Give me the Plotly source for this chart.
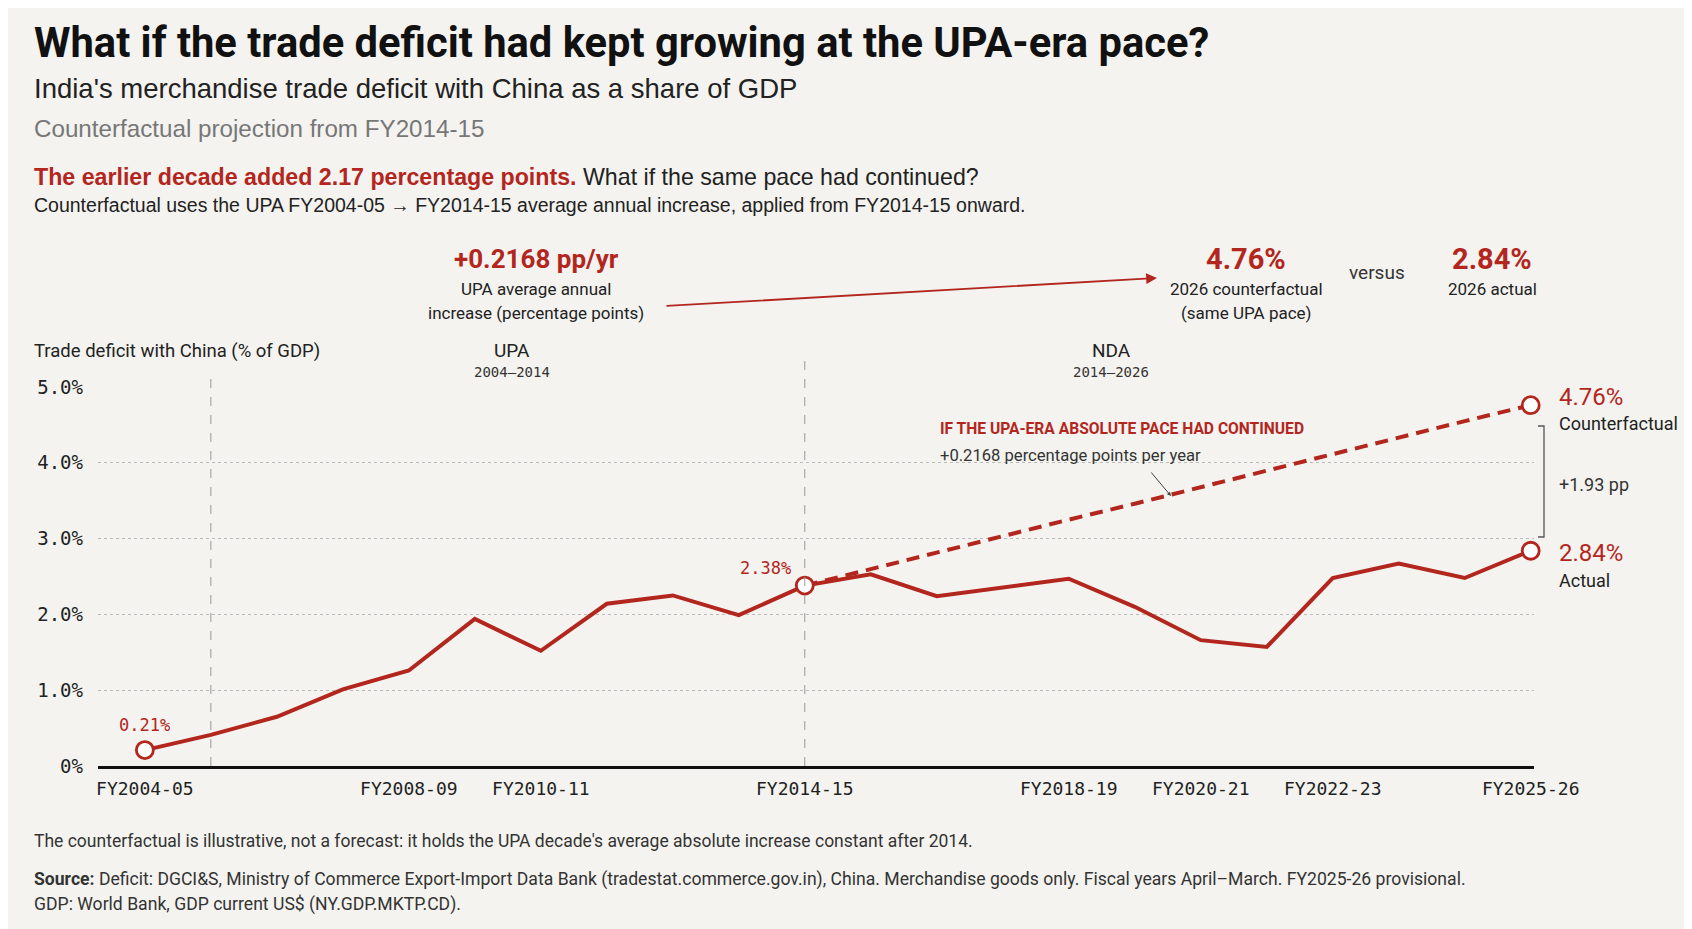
import plotly.graph_objects as go

# Fiscal years on the x axis
years = [
    "FY2004-05", "FY2005-06", "FY2006-07", "FY2007-08", "FY2008-09", "FY2009-10",
    "FY2010-11", "FY2011-12", "FY2012-13", "FY2013-14", "FY2014-15", "FY2015-16",
    "FY2016-17", "FY2017-18", "FY2018-19", "FY2019-20", "FY2020-21", "FY2021-22",
    "FY2022-23", "FY2023-24", "FY2024-25", "FY2025-26",
]

# Actual trade deficit with China (% of GDP)
actual = [
    0.21, 0.41, 0.65, 1.01, 1.26, 1.94, 1.52, 2.14, 2.25, 1.99, 2.38,
    2.53, 2.24, 2.36, 2.47, 2.10, 1.66, 1.57, 2.48, 2.67, 2.48, 2.84,
]

# Counterfactual path from FY2014-15 (UPA pace +0.2168 pp/yr)
cf_years = years[10:]
counterfactual = [2.38, 2.60, 2.81, 3.03, 3.25, 3.46, 3.68, 3.90, 4.11, 4.33, 4.55, 4.76]

tick_years = ["FY2004-05", "FY2008-09", "FY2010-11", "FY2014-15",
              "FY2018-19", "FY2020-21", "FY2022-23", "FY2025-26"]
y_ticks = [0, 1, 2, 3, 4, 5]
y_tick_text = ["0%", "1.0%", "2.0%", "3.0%", "4.0%", "5.0%"]

RED = "#b3261e"
BG = "#f4f3ef"
SANS = "Roboto, 'Liberation Sans', sans-serif"
BODY = "'Liberation Sans', Arial, sans-serif"
MONO = "'DejaVu Sans Mono', 'Liberation Mono', monospace"

W, H = 1692, 929
OFF = 8  # page margin of the html body
L, R, T, B = 98 - OFF, 1534 - OFF, 387 - OFF, 766 - OFF


def px(x):
    return (x - OFF - L) / (R - L)


def py(y):
    return (B - (y - OFF)) / (B - T)


fig = go.Figure()

# Counterfactual (dashed)
fig.add_trace(go.Scatter(
    x=cf_years, y=counterfactual, mode="lines",
    line=dict(color=RED, width=4, dash="13px,8px"), hoverinfo="skip",
))

# Actual line
fig.add_trace(go.Scatter(
    x=years, y=actual, mode="lines",
    line=dict(color=RED, width=4), hoverinfo="skip",
))

# Highlighted points
hl_x = [years[0], years[10], years[-1], cf_years[-1]]
hl_y = [actual[0], actual[10], actual[-1], counterfactual[-1]]
fig.add_trace(go.Scatter(
    x=hl_x, y=hl_y, mode="markers", cliponaxis=False,
    marker=dict(size=17, color="white", line=dict(color=RED, width=2.8)),
    hoverinfo="skip",
))

ann = []


def text(x, y, s, size, color="#222", family=SANS, anchor="left", bold=False):
    if bold:
        s = "<b>" + s + "</b>"
    ann.append(dict(
        x=px(x), y=py(y), xref="paper", yref="paper", text=s, showarrow=False,
        xanchor=anchor, yanchor="middle", font=dict(size=size, color=color, family=family),
    ))


# Header
text(32, 42, "What if the trade deficit had kept growing at the UPA-era pace?", 41.7,
     "#111", SANS, bold=True)
text(32, 88, "India's merchandise trade deficit with China as a share of GDP", 27.5, "#222", BODY)
text(32, 128, "Counterfactual projection from FY2014-15", 24.2, "#777", BODY)
text(32, 177,
     "<span style='color:%s'><b>The earlier decade added 2.17 percentage points.</b></span>"
     " What if the same pace had continued?" % RED, 23.2, "#222", BODY)
text(32, 205,
     "Counterfactual uses the UPA FY2004-05 \u2192 FY2014-15 average annual increase, "
     "applied from FY2014-15 onward.", 19.5, "#222", BODY)

# Callouts above the chart
text(536, 259, "+0.2168 pp/yr", 26, RED, SANS, anchor="center", bold=True)
text(536, 289, "UPA average annual", 17, "#222", anchor="center")
text(536, 313, "increase (percentage points)", 17, "#222", anchor="center")
text(1246, 259, "4.76%", 29, RED, SANS, anchor="center", bold=True)
text(1246, 289, "2026 counterfactual", 17, "#222", anchor="center")
text(1246, 313, "(same UPA pace)", 17, "#222", anchor="center")
text(1377, 272, "versus", 19, "#333", anchor="center")
text(1492, 259, "2.84%", 29, RED, SANS, anchor="center", bold=True)
text(1492, 289, "2026 actual", 17, "#222", anchor="center")

ann.append(dict(
    x=px(1157), y=py(278), xref="paper", yref="paper", text="", showarrow=True,
    ax=-492, ay=28, arrowhead=2, arrowsize=1.2, arrowwidth=1.8, arrowcolor=RED,
))

# Axis title and era labels
text(32, 351, "Trade deficit with China (% of GDP)", 18.5, "#222")
text(512, 350, "UPA", 19, "#222", anchor="center")
text(512, 372, "2004\u20132014", 14, "#333", MONO, anchor="center")
text(1111, 350, "NDA", 19, "#222", anchor="center")
text(1111, 372, "2014\u20132026", 14, "#333", MONO, anchor="center")

# Counterfactual note in the plot
text(938, 429, "IF THE UPA-ERA ABSOLUTE PACE HAD CONTINUED", 15.6, RED, SANS, bold=True)
text(938, 455, "+0.2168 percentage points per year", 16.6, "#333")
ann.append(dict(
    x=px(1171), y=py(496), xref="paper", yref="paper", text="", showarrow=True,
    ax=-21, ay=-25, arrowhead=2, arrowsize=0.8, arrowwidth=1, arrowcolor="#444",
))

# Point labels
ann.append(dict(x=years[0], y=actual[0], text="0.21%", showarrow=False, yshift=25,
                font=dict(size=17, color=RED, family=MONO)))
ann.append(dict(x=years[10], y=actual[10], text="2.38%", showarrow=False, yshift=18,
                xshift=-12, xanchor="right", font=dict(size=17, color=RED, family=MONO)))

# Right-hand labels
text(1557, 397, "4.76%", 24, RED)
text(1557, 423, "Counterfactual", 18, "#222")
text(1557, 484, "+1.93 pp", 18, "#333")
text(1557, 553, "2.84%", 24, RED)
text(1557, 580, "Actual", 18, "#222")

# Footer
text(32, 841, "The counterfactual is illustrative, not a forecast: it holds the UPA decade's "
     "average absolute increase constant after 2014.", 17.5, "#333")
text(32, 879, "<b>Source:</b> Deficit: DGCI&S, Ministry of Commerce Export-Import Data Bank "
     "(tradestat.commerce.gov.in), China. Merchandise goods only. Fiscal years April\u2013March. "
     "FY2025-26 provisional.", 17.6, "#333")
text(32, 904, "GDP: World Bank, GDP current US$ (NY.GDP.MKTP.CD).", 17.6, "#333")

shapes = [
    # era dividers
    dict(type="line", xref="x", yref="paper", x0=years[1], x1=years[1], y0=0, y1=py(375),
         line=dict(color="#999", width=1, dash="dash")),
    dict(type="line", xref="x", yref="paper", x0=years[10], x1=years[10], y0=0, y1=py(357),
         line=dict(color="#999", width=1, dash="dash")),
    # bracket between end values
    dict(type="path", xref="paper", yref="paper",
         path="M %f,%f L %f,%f L %f,%f L %f,%f" % (
             px(1538), py(426), px(1544), py(426), px(1544), py(537), px(1538), py(537)),
         line=dict(color="#555", width=1.3)),
]

fig.update_layout(
    width=W, height=H,
    margin=dict(l=L, r=W - R, t=T, b=H - B),
    paper_bgcolor=BG, plot_bgcolor=BG,
    showlegend=False,
    annotations=ann,
    shapes=shapes,
    xaxis=dict(
        type="category", categoryorder="array", categoryarray=years,
        range=[-0.71, 21.05], tickvals=tick_years, ticks="", showgrid=False,
        showline=True, linecolor="#111", linewidth=3, zeroline=False,
        tickfont=dict(size=18, color="#222", family=MONO), ticklabelstandoff=4,
    ),
    yaxis=dict(
        range=[0, 5], tickvals=y_ticks, ticktext=y_tick_text, ticks="",
        showgrid=True, gridcolor="#bbb", griddash="dot", gridwidth=1, zeroline=False,
        tickfont=dict(size=19, color="#222", family=MONO), ticklabelstandoff=14,
    ),
)

fig.write_html("out.html")
